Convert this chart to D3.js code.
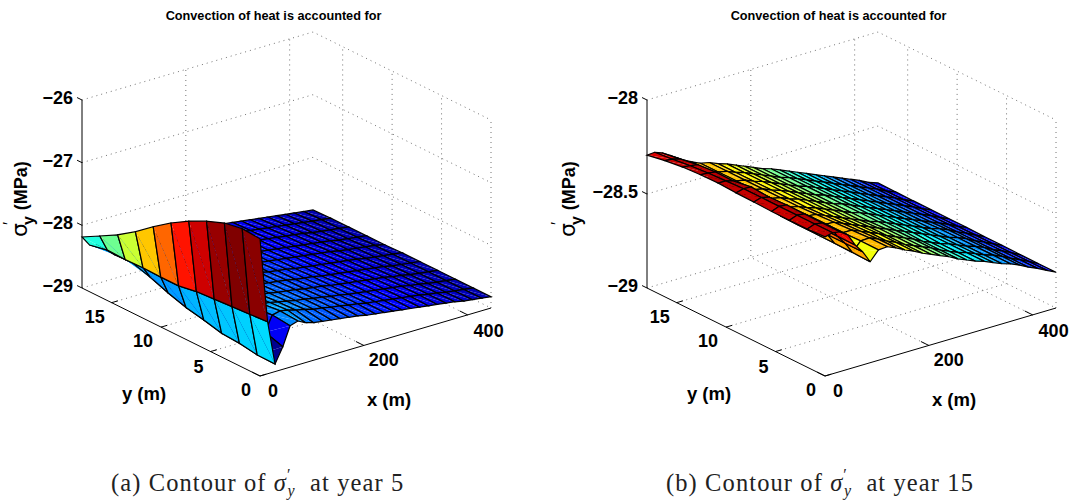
<!DOCTYPE html>
<html><head><meta charset="utf-8">
<script src="https://cdn.jsdelivr.net/npm/d3@7"></script>
<style>html,body{margin:0;background:#fff}svg{display:block}text{font-family:"Liberation Sans",Arial,sans-serif}</style>
</head><body><svg id="c" width="1072" height="500"></svg>
<script>
const xTicks=[0,200,400], yTicks=[0,5,10,15];
const zTicksA=[-29,-28,-27,-26], zTicksB=[-29,-28.5,-28];
const zLabelsB=["−29","−28.5","−28"], zLabelsA=["−29","−28","−27","−26"];
const xMax=445, yMax=18;
const titleText="Convection of heat is accounted for";
const xs=[0,14.6,29,44,58,73,87,103,120,137,154,171,188,205,222,239,256,273,290,307,324,341,358,375,392,409,427,445];
const ys=[0,1.8,3.6,5.4,7.2,9,10.8,12.6,14.4,16.2,18];
const zA=[
[-26.81,-26.79,-26.84,-26.95,-27.09,-27.26,-27.46,-27.68,-27.87,-28.03,-28.185],
[-28.17,-28.19,-28.21,-28.23,-28.25,-28.30,-28.30,-28.29,-28.30,-28.29,-28.35],
[-28.88,-28.875,-28.83,-28.81,-28.74,-28.68,-28.59,-28.48,-28.39,-28.40,-28.38],
[-28.64,-28.55,-28.50,-28.47,-28.45,-28.42,-28.40,-28.38,-28.36,-28.34,-28.33],
[-28.34,-28.31,-28.33,-28.34,-28.35,-28.35,-28.35,-28.35,-28.35,-28.35,-28.36],
[-28.30,-28.28,-28.31,-28.33,-28.34,-28.35,-28.36,-28.36,-28.37,-28.37,-28.38],
[-28.36,-28.30,-28.32,-28.34,-28.35,-28.37,-28.38,-28.39,-28.40,-28.41,-28.42],
[-28.40,-28.34,-28.35,-28.37,-28.38,-28.39,-28.40,-28.41,-28.42,-28.43,-28.44],
[-28.42,-28.37,-28.38,-28.39,-28.40,-28.41,-28.42,-28.43,-28.44,-28.45,-28.46],
[-28.44,-28.41,-28.41,-28.42,-28.43,-28.43,-28.44,-28.45,-28.46,-28.47,-28.48],
[-28.46,-28.43,-28.43,-28.44,-28.45,-28.45,-28.46,-28.47,-28.48,-28.49,-28.50],
[-28.48,-28.46,-28.46,-28.46,-28.47,-28.47,-28.48,-28.49,-28.50,-28.51,-28.52],
[-28.50,-28.48,-28.48,-28.49,-28.49,-28.50,-28.50,-28.51,-28.52,-28.53,-28.54],
[-28.53,-28.51,-28.51,-28.51,-28.52,-28.52,-28.53,-28.53,-28.54,-28.55,-28.56],
[-28.55,-28.53,-28.53,-28.53,-28.54,-28.54,-28.55,-28.55,-28.56,-28.57,-28.58],
[-28.57,-28.56,-28.56,-28.56,-28.56,-28.57,-28.57,-28.58,-28.58,-28.59,-28.60],
[-28.59,-28.58,-28.58,-28.58,-28.59,-28.59,-28.59,-28.60,-28.60,-28.61,-28.62],
[-28.61,-28.60,-28.60,-28.60,-28.61,-28.61,-28.61,-28.62,-28.62,-28.63,-28.64],
[-28.63,-28.62,-28.62,-28.62,-28.63,-28.63,-28.63,-28.64,-28.64,-28.65,-28.66],
[-28.65,-28.64,-28.64,-28.64,-28.65,-28.65,-28.65,-28.66,-28.66,-28.67,-28.68],
[-28.67,-28.66,-28.66,-28.66,-28.67,-28.67,-28.67,-28.68,-28.68,-28.69,-28.70],
[-28.69,-28.68,-28.68,-28.68,-28.69,-28.69,-28.69,-28.70,-28.70,-28.71,-28.72],
[-28.71,-28.71,-28.71,-28.71,-28.71,-28.71,-28.72,-28.72,-28.72,-28.73,-28.74],
[-28.73,-28.73,-28.73,-28.73,-28.73,-28.74,-28.74,-28.74,-28.75,-28.75,-28.76],
[-28.76,-28.76,-28.76,-28.76,-28.76,-28.76,-28.76,-28.77,-28.77,-28.77,-28.78],
[-28.78,-28.78,-28.78,-28.78,-28.78,-28.78,-28.78,-28.79,-28.79,-28.79,-28.80],
[-28.80,-28.80,-28.80,-28.80,-28.80,-28.80,-28.80,-28.81,-28.81,-28.81,-28.82],
[-28.82,-28.82,-28.82,-28.82,-28.82,-28.82,-28.83,-28.83,-28.83,-28.83,-28.84]];
const zB=[
[-28.26,-28.265,-28.265,-28.265,-28.262,-28.26,-28.255,-28.257,-28.263,-28.276,-28.293],
[-28.25,-28.25,-28.25,-28.25,-28.25,-28.25,-28.255,-28.26,-28.268,-28.28,-28.29],
[-28.257,-28.256,-28.255,-28.254,-28.259,-28.252,-28.267,-28.266,-28.274,-28.29,-28.305],
[-28.285,-28.285,-28.285,-28.29,-28.30,-28.32,-28.33,-28.33,-28.33,-28.33,-28.33],
[-28.35,-28.35,-28.35,-28.35,-28.36,-28.37,-28.38,-28.38,-28.37,-28.36,-28.355],
[-28.40,-28.40,-28.40,-28.40,-28.405,-28.41,-28.41,-28.41,-28.40,-28.39,-28.38],
[-28.463,-28.46,-28.458,-28.457,-28.457,-28.455,-28.435,-28.43,-28.425,-28.41,-28.40],
[-28.413,-28.412,-28.415,-28.418,-28.42,-28.42,-28.42,-28.42,-28.42,-28.42,-28.42],
[-28.41,-28.41,-28.415,-28.42,-28.425,-28.43,-28.43,-28.43,-28.43,-28.43,-28.43],
[-28.43,-28.43,-28.435,-28.44,-28.445,-28.45,-28.45,-28.45,-28.45,-28.45,-28.45],
[-28.455,-28.455,-28.455,-28.46,-28.465,-28.465,-28.465,-28.465,-28.465,-28.465,-28.465],
[-28.475,-28.475,-28.475,-28.48,-28.485,-28.485,-28.485,-28.485,-28.485,-28.485,-28.485],
[-28.50,-28.50,-28.50,-28.50,-28.505,-28.505,-28.505,-28.505,-28.505,-28.505,-28.505],
[-28.52,-28.52,-28.52,-28.52,-28.525,-28.525,-28.525,-28.525,-28.525,-28.525,-28.525],
[-28.54,-28.54,-28.54,-28.54,-28.545,-28.545,-28.545,-28.545,-28.545,-28.545,-28.545],
[-28.56,-28.56,-28.56,-28.56,-28.56,-28.56,-28.56,-28.56,-28.56,-28.56,-28.56],
[-28.585,-28.585,-28.585,-28.58,-28.58,-28.58,-28.58,-28.58,-28.58,-28.58,-28.58],
[-28.605,-28.605,-28.605,-28.60,-28.60,-28.60,-28.60,-28.60,-28.60,-28.60,-28.60],
[-28.625,-28.625,-28.625,-28.62,-28.62,-28.62,-28.62,-28.62,-28.62,-28.62,-28.62],
[-28.64,-28.64,-28.64,-28.64,-28.64,-28.64,-28.64,-28.64,-28.64,-28.64,-28.64],
[-28.66,-28.66,-28.66,-28.66,-28.66,-28.66,-28.66,-28.66,-28.66,-28.66,-28.66],
[-28.68,-28.68,-28.68,-28.68,-28.68,-28.68,-28.68,-28.68,-28.68,-28.68,-28.68],
[-28.695,-28.695,-28.695,-28.695,-28.695,-28.70,-28.70,-28.70,-28.70,-28.70,-28.70],
[-28.715,-28.715,-28.715,-28.715,-28.715,-28.72,-28.72,-28.72,-28.72,-28.72,-28.72],
[-28.74,-28.74,-28.74,-28.74,-28.74,-28.74,-28.74,-28.74,-28.74,-28.74,-28.74],
[-28.76,-28.76,-28.76,-28.76,-28.76,-28.76,-28.76,-28.76,-28.76,-28.76,-28.76],
[-28.785,-28.785,-28.785,-28.785,-28.785,-28.785,-28.785,-28.785,-28.785,-28.785,-28.785],
[-28.81,-28.81,-28.81,-28.808,-28.808,-28.806,-28.806,-28.805,-28.805,-28.804,-28.803]];

const svg=d3.select("#c");
const jet=d3.scaleLinear().domain([0,.125,.375,.625,.875,1]).range(["#000090","#0000ff","#00ffff","#ffff00","#ff0000","#800000"]).clamp(true);
const sxX=d3.scaleLinear().domain([0,xMax]).range([0,231]);
const sxY=d3.scaleLinear().domain([0,xMax]).range([0,-68]);
const syX=d3.scaleLinear().domain([0,yMax]).range([0,-178]);
const syY=d3.scaleLinear().domain([0,yMax]).range([0,-88]);

function panel(off,z,zTicks,zLabels,zDomain,cDomain,letter,caption,capX,zLabX){
  const g=svg.append("g");
  const zS=d3.scaleLinear().domain(zDomain).range([0,-188]);
  const col=d3.scaleLinear().domain(cDomain).range([0,1]);
  const ox=260+off,oy=376;
  const P=(x,y,zz)=>[ox+sxX(x)+syX(y),oy+sxY(x)+syY(y)+zS(zz)];
  const zb=zDomain[0],zt=zDomain[1];
  const line=d3.line();
  const dot=(pts)=>g.append("path").attr("d",line(pts)).attr("fill","none").attr("stroke","#444").attr("stroke-width",.75).attr("stroke-dasharray","1 4");
  zTicks.forEach(t=>dot([P(0,yMax,t),P(xMax,yMax,t),P(xMax,0,t)]));
  xTicks.filter(t=>t>0).forEach(t=>{dot([P(t,0,zb),P(t,yMax,zb),P(t,yMax,zt)]);});
  yTicks.forEach(t=>{ if(t>0) dot([P(0,t,zb),P(xMax,t,zb),P(xMax,t,zt)]); else dot([P(xMax,0,zb),P(xMax,0,zt)]);});
  const ax=(pts)=>g.append("path").attr("d",line(pts)).attr("fill","none").attr("stroke","#000").attr("stroke-width",1);
  ax([P(0,yMax,zt),P(0,yMax,zb),P(0,0,zb),P(xMax,0,zb)]);
  zTicks.forEach(t=>ax([P(0,yMax,t),P(0,yMax+0.5,t)]));
  xTicks.forEach(t=>ax([P(t,0,zb),P(t,0.8,zb)]));
  yTicks.forEach(t=>ax([P(0,t,zb),P(12,t,zb)]));
  const sf=g.append("g");
  for(let i=xs.length-2;i>=0;i--) for(let j=ys.length-2;j>=0;j--){
    const a=P(xs[i],ys[j],z[i][j]),b=P(xs[i+1],ys[j],z[i+1][j]),c=P(xs[i+1],ys[j+1],z[i+1][j+1]),d=P(xs[i],ys[j+1],z[i][j+1]);
    const f=jet(col(z[i][j]));
    sf.append("path").attr("d",line([a,b,d])+"Z").attr("fill",f);
    sf.append("path").attr("d",line([b,c,d])+"Z").attr("fill",f);
    sf.append("path").attr("d",line([a,b,c,d])+"Z").attr("fill","none").attr("stroke","#000").attr("stroke-width",1.2);
  }
  const txt=(x,y,s,size,anchor)=>g.append("text").attr("x",x).attr("y",y).attr("font-size",size).attr("font-weight","bold").attr("text-anchor",anchor||"middle").text(s);
  txt(273.5+off,20,titleText,12.7);
  zTicks.forEach((t,i)=>{const p=P(0,yMax,t);txt(p[0]-9,p[1]+4,zLabels[i],18,"end");});
  xTicks.forEach((t,i)=>{const p=P(t,0,zb);txt(p[0]+[13,20,21][i],p[1]+[21,21,22][i],String(t),18);});
  yTicks.forEach((t,i)=>{const p=P(0,t,zb);txt(p[0]-[14,12,18,17][i],p[1]+[20,21,20,20][i],String(t),18);});
  txt(389+off,406,"x (m)",18.5);
  txt(144+off,400,"y (m)",18.5);
  const lab=g.append("text").attr("transform",`translate(${zLabX},237) rotate(-90)`).attr("font-size",18).attr("font-weight","bold");
  lab.append("tspan").attr("font-weight","normal").attr("font-size",22).attr("font-family","DejaVu Sans").text("σ");
  lab.append("tspan").attr("font-weight","normal").attr("font-size",16).attr("dy",-12).attr("dx",-2).text("′");
  lab.append("tspan").attr("dy",19).attr("dx",-3).attr("font-size",16).text("y");
  lab.append("tspan").attr("dy",-7).attr("dx",6).text("(MPa)");
  const cap=g.append("text").attr("x",capX).attr("y",491).attr("font-size",24.5).attr("letter-spacing",1.1).attr("fill","#222").style("font-family","'Liberation Serif',serif");
  cap.append("tspan").text(letter+"  Contour of ");
  cap.append("tspan").attr("font-style","italic").text("σ");
  cap.append("tspan").attr("dy",-11).attr("font-size",16).text("′");
  cap.append("tspan").attr("dy",16).attr("dx",-4).attr("font-size",16).attr("font-style","italic").text("y");
  cap.append("tspan").attr("dy",-5).attr("dx",7).text(" at year "+caption);
}
panel(0,zA,zTicksA,zLabelsA,[-29,-26],[-28.88,-26.79],"(a)","5",111,27);
panel(565,zB,zTicksB,zLabelsB,[-29,-28],[-28.85,-28.22],"(b)","15",666,575);
</script></body></html>
